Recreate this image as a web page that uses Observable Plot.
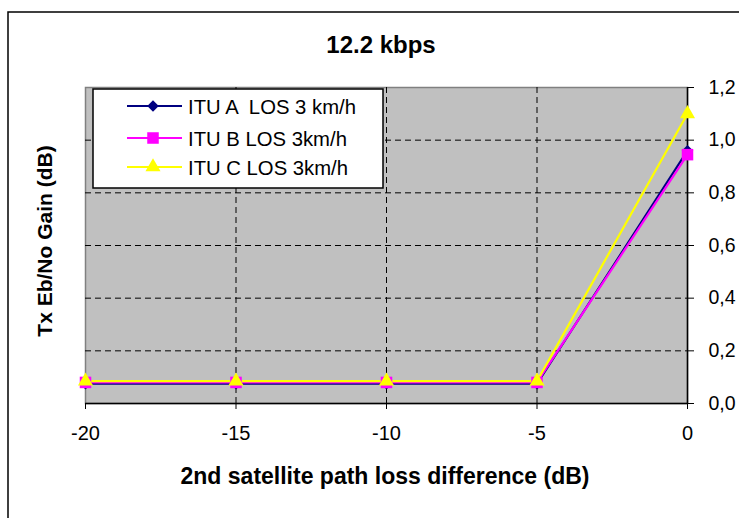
<!DOCTYPE html>
<html>
<head>
<meta charset="utf-8">
<script src="https://cdn.jsdelivr.net/npm/d3@7"></script>
<script src="https://cdn.jsdelivr.net/npm/@observablehq/plot@0.6"></script>
<style>
  html, body { margin: 0; padding: 0; background: white; }
  #chart { width: 739px; height: 518px; }
</style>
</head>
<body>
<div id="chart"></div>
<script>
const titleText = "12.2 kbps";
const xTitle = "2nd satellite path loss difference (dB)";
const yTitle = "Tx Eb/No Gain (dB)";
const pathLoss = [-20, -15, -10, -5, 0];
const ituA = [0.075, 0.075, 0.075, 0.075, 0.96];
const ituB = [0.08, 0.08, 0.08, 0.08, 0.945];
const ituC = [0.085, 0.085, 0.085, 0.085, 1.10];
const seriesNames = ["ITU A  LOS 3 km/h", "ITU B LOS 3km/h", "ITU C LOS 3km/h"];
const seriesColors = ["#000080", "#FF00FF", "#FFFF00"];
const seriesSymbols = ["diamond2", "square", "triangle"];
const seriesR = [5.2, 6.5, 5.6];
const xTicks = [-20, -15, -10, -5, 0];
const yTicks = [0, 0.2, 0.4, 0.6, 0.8, 1.0, 1.2];
const xGrid = [-15, -10, -5];
const yGrid = [0.2, 0.4, 0.6, 0.8, 1.0];

const seriesValues = [ituA, ituB, ituC];
const data = [];
seriesValues.forEach((vals, si) => {
  vals.forEach((v, i) => data.push({series: seriesNames[si], x: pathLoss[i], y: v}));
});

const font = "'Liberation Sans', Arial, sans-serif";

const marks = [
  Plot.frame({fill: "#C0C0C0", stroke: "#808080", strokeWidth: 1.5}),
  Plot.gridX(xGrid, {stroke: "black", strokeOpacity: 1, strokeDasharray: "6,4", strokeWidth: 1}),
  Plot.gridY(yGrid, {stroke: "black", strokeOpacity: 1, strokeDasharray: "6,4", strokeWidth: 1}),
  Plot.ruleX([0], {stroke: "black", strokeWidth: 1.5}),
  Plot.ruleY([0], {stroke: "black", strokeWidth: 1.5}),
  Plot.axisX({ticks: xTicks, tickSize: 6, tickPadding: 16, tickFormat: d => String(d), label: null, fontSize: 20, stroke: "black"}),
  Plot.axisY({anchor: "right", ticks: yTicks, tickSize: 6, tickPadding: 15, tickFormat: d => d.toFixed(1).replace(".", ","), label: null, fontSize: 19.5})
];
seriesNames.forEach((name, si) => {
  const d = data.filter(r => r.series === name);
  marks.push(Plot.line(d, {x: "x", y: "y", stroke: seriesColors[si], strokeWidth: 2.2}));
});
seriesNames.forEach((name, si) => {
  const d = data.filter(r => r.series === name);
  marks.push(Plot.dot(d, {x: "x", y: "y", symbol: () => seriesSymbols[si], fill: seriesColors[si], stroke: "none", r: seriesR[si]}));
});

const chart = Plot.plot({
  width: 739,
  height: 518,
  marginLeft: 85,
  marginRight: 52,
  marginTop: 87,
  marginBottom: 115,
  style: {fontFamily: font, fontSize: "20px", background: "white", color: "black", overflow: "visible"},
  x: {domain: [-20, 0]},
  y: {domain: [0, 1.2]},
  symbol: {type: "identity"},
  marks
});
document.getElementById("chart").appendChild(chart);

const svg = d3.select(chart);
// outer chart border
svg.insert("rect", ":first-child").attr("x", 8).attr("y", 12).attr("width", 740).attr("height", 520)
  .attr("fill", "white").attr("stroke", "black").attr("stroke-width", 1.5);

svg.append("text").attr("x", 381).attr("y", 53).attr("text-anchor", "middle")
  .attr("font-family", font).attr("font-size", 24).attr("font-weight", "bold").text(titleText);
svg.append("text").attr("x", 385).attr("y", 484).attr("text-anchor", "middle")
  .attr("font-family", font).attr("font-size", 23).attr("font-weight", "bold").text(xTitle);
svg.append("text").attr("transform", "translate(52,241) rotate(-90)").attr("text-anchor", "middle")
  .attr("font-family", font).attr("font-size", 21).attr("font-weight", "bold").text(yTitle);

// legend
const lg = svg.append("g");
lg.append("rect").attr("x", 93).attr("y", 89).attr("width", 290).attr("height", 99)
  .attr("fill", "white").attr("stroke", "black").attr("stroke-width", 1.5);
const legendY = [106, 138, 167];
const d3Symbols = [d3.symbolDiamond2, d3.symbolSquare, d3.symbolTriangle];
seriesNames.forEach((name, si) => {
  const y = legendY[si];
  lg.append("line").attr("x1", 127).attr("x2", 182).attr("y1", y).attr("y2", y)
    .attr("stroke", seriesColors[si]).attr("stroke-width", 2.2);
  lg.append("path").attr("transform", `translate(153,${y})`)
    .attr("d", d3.symbol(d3Symbols[si], Math.PI * seriesR[si] * seriesR[si])())
    .attr("fill", seriesColors[si]);
  lg.append("text").attr("x", 188).attr("y", y + 7.5).attr("text-anchor", "start")
    .attr("font-family", font).attr("font-size", 20.3)
    .style("white-space", "pre").text(name);
});
</script>
</body>
</html>
